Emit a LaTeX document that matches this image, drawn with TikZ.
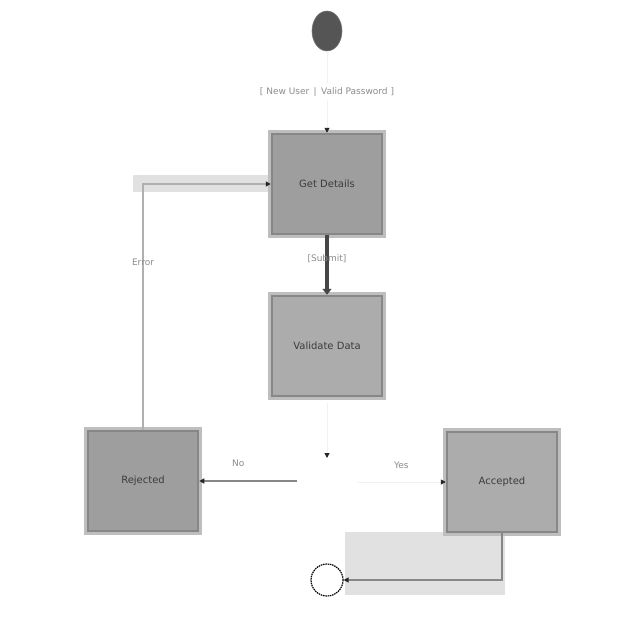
\documentclass[tikz,border=0pt]{standalone}
\usepackage{fontspec}
\setmainfont{DejaVu Sans}
\usetikzlibrary{arrows.meta,shapes.geometric}
\definecolor{halo}{RGB}{190,190,190}
\definecolor{edgeg}{RGB}{135,135,135}
\definecolor{fillA}{RGB}{158,158,158}
\definecolor{fillB}{RGB}{172,172,172}
\definecolor{txt}{RGB}{60,60,60}
\definecolor{lbl}{RGB}{140,140,140}
\definecolor{band}{RGB}{225,225,225}
\definecolor{startfill}{RGB}{85,85,85}
\definecolor{startedge}{RGB}{120,120,120}
\definecolor{faint}{RGB}{242,242,242}
\definecolor{thickline}{RGB}{70,70,70}
\definecolor{errline}{RGB}{175,175,175}
\tikzset{
  statebox/.style={draw=edgeg, line width=2.5pt, minimum width=110pt, minimum height=100pt,
    font=\fontsize{10}{12}\selectfont, text=txt, inner sep=0pt,
    preaction={draw=halo, line width=8pt}},
  dark/.style={fill=fillA},
  light/.style={fill=fillB},
  lab/.style={font=\fontsize{9}{11}\selectfont, text=lbl},
  tip/.style={-{Triangle[length=5pt,width=5pt,color=black!85]}},
}
\begin{document}
\begin{tikzpicture}[x=1pt,y=-1pt]
\useasboundingbox (0,0) rectangle (640,640);
\fill[white] (0,0) rectangle (640,640);
% background bands
\fill[band] (133,175) rectangle (270,192);
\fill[band] (345,532) rectangle (505,595);
% nodes
\node[ellipse, fill=startfill, draw=startedge, minimum width=30pt, minimum height=40pt, inner sep=0pt, line width=0.6pt] (start) at (327,31) {};
\node[statebox, dark] (get) at (327,184) {Get Details};
\node[statebox, light] (val) at (327,346) {Validate Data};
\node[statebox, dark] (rej) at (143,481) {Rejected};
\node[statebox, light] (acc) at (502,482) {Accepted};
\coordinate (decT) at (327,458);
\coordinate (decL) at (297,481);
\coordinate (decR) at (357,482);
\node[circle, draw=black, dash pattern=on 1.5pt off 0.8pt, line width=1.2pt, minimum size=32pt, inner sep=0pt] (end) at (327,580) {};
% connectors
\draw[faint, line width=1pt, tip] (start) -- (get.north)
  node[pos=0.5, lab, fill=white] {[ New User \,|\, Valid Password ]};
\draw[thickline, line width=4pt, -{Triangle[length=6pt,width=9pt]}] (get.south) -- (val.north)
  node[pos=0.4, lab] {[Submit]};
\draw[faint, line width=1pt, tip, shorten <=6pt] (val.south) -- (decT);
\draw[edgeg, line width=1.3pt, tip] (decL) -- (rej.east) node[pos=0.6, above=10pt, lab] {No};
\draw[faint, line width=1pt, tip] (decR) -- (acc.west) node[pos=0.5, above=10pt, lab] {Yes};
\draw[errline, line width=1.3pt, tip] (rej.north) |- (get.west)
  node[pos=0.34, lab] {Error};
\draw[edgeg, line width=1.3pt, tip] (acc.south) |- (end.east);
\end{tikzpicture}
\end{document}
